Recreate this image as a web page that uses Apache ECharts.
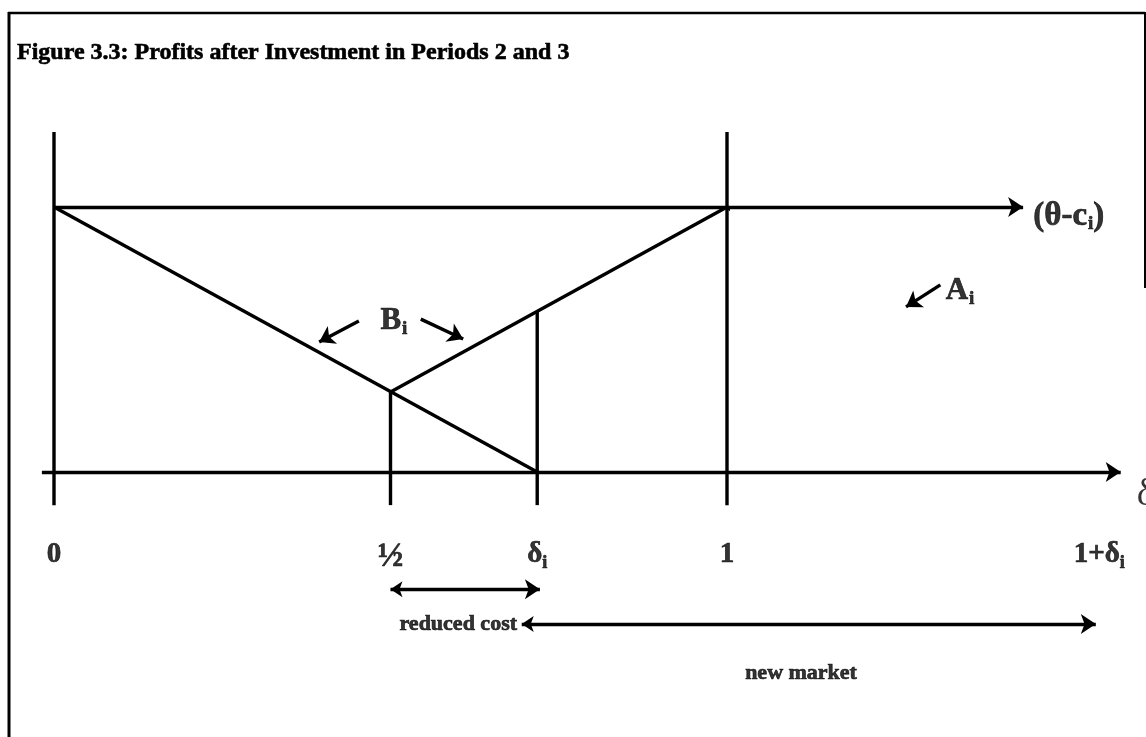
<!DOCTYPE html>
<html>
<head>
<meta charset="utf-8">
<script src="https://cdn.jsdelivr.net/npm/echarts@6/dist/echarts.min.js"></script>
<style>
html,body{margin:0;padding:0;background:#fff;}
#chart{width:1146px;height:737px;}
</style>
</head>
<body>
<div id="chart"></div>
<script>
// ---- data (schematic units: x in delta units, y in profit units, (theta-c) = 1) ----
const titleText = 'Figure 3.3: Profits after Investment in Periods 2 and 3';
const tickPositions = [0, 0.5, 0.718, 1, 1.553];
const tickLabels = ['{m|0}', '{h|½}', '{m|δ}{s|i}', '{m|1}', '{m|1+δ}{s|i}'];
const tickLabelY = -0.317;
const thetaLevel = 1;              // (θ - c_i)
const profitB1 = [[0, 1], [0.718, 0]];
const profitB2 = [[0.5, 0.302], [1, 1]];
const profitA = [[1, 1], [1.553, 0]];
const verticals = [            // [x, yFrom, yTo]
  [0, -0.125, 1.283],
  [0.5, -0.125, 0.302],
  [0.718, -0.125, 0.606],
  [1, -0.125, 1.283],
  [1.553, -0.125, 0]
];
const xAxisLine = [[-0.018, 0], [1.585, 0]];
const thetaLine = [[0, 1], [1.44, 1]];
const reducedCostArrow = [[0.5, -0.442], [0.722, -0.442]];
const newMarketArrow = [[0.695, -0.574], [1.548, -0.574]];
const pointerArrows = [
  [[0.453, 0.570], [0.394, 0.491]],
  [[0.545, 0.577], [0.608, 0.502]],
  [[1.317, 0.706], [1.266, 0.623]]
];
const annotations = [ // [x, y, text, align]
  [0.505, 0.566, '{b|B}{bs|i}', 'center'],
  [1.325, 0.679, '{b|A}{bs|i}', 'left'],
  [1.455, 0.962, '{c|(θ-c}{bs|i}{c|)}', 'left'],
  [0.688, -0.574, '{t|reduced cost}', 'right'],
  [1.11, -0.758, '{t|new market}', 'center'],
  [1.609, -0.087, '{d|δ}', 'left']
];

const FONT = '"Liberation Serif", "Times New Roman", serif';
const ink = {color: '#000', textBorderColor: '#000', textBorderWidth: 0.7};
const rich = {
  m: {fontFamily: FONT, fontWeight: 'bold', fontSize: 29, lineHeight: 32, verticalAlign: 'top', ...ink},
  h: {fontFamily: FONT, fontWeight: 'bold', fontSize: 34, lineHeight: 32, verticalAlign: 'top', ...ink},
  s: {fontFamily: FONT, fontWeight: 'bold', fontSize: 18, lineHeight: 18, padding: [14, 0, 0, 0], verticalAlign: 'top', ...ink},
  b: {fontFamily: FONT, fontWeight: 'bold', fontSize: 31, lineHeight: 34, verticalAlign: 'top', ...ink},
  c: {fontFamily: FONT, fontWeight: 'bold', fontSize: 33, lineHeight: 34, verticalAlign: 'top', ...ink},
  bs: {fontFamily: FONT, fontWeight: 'bold', fontSize: 19, lineHeight: 19, padding: [15, 0, 0, 1], verticalAlign: 'top', ...ink},
  t: {fontFamily: FONT, fontWeight: 'bold', fontSize: 22, ...ink},
  d: {fontFamily: FONT, fontSize: 38, color: '#000'}
};

const lineStyle = {color: '#000', width: 3.4};
function seg(data, name) {
  return {type: 'line', name, data, symbol: 'none', clip: false, silent: true,
    lineStyle: lineStyle, animation: false, z: 3};
}
function arrows(list, name, symbol) {
  return {type: 'lines', name, coordinateSystem: 'cartesian2d', clip: false, silent: true,
    symbol: symbol, symbolSize: [12, 15], animation: false,
    lineStyle: {color: '#000', width: 3.4, opacity: 1},
    data: list.map(c => ({coords: c}))};
}

const series = [
  seg(profitB1, 'B1'), seg(profitB2, 'B2'), seg(profitA, 'A'),
  ...verticals.map((v, i) => seg([[v[0], v[1]], [v[0], v[2]]], 'v' + i)),
  arrows([xAxisLine], 'xaxis', ['none', 'arrow']),
  arrows([thetaLine], 'theta', ['none', 'arrow']),
  arrows([reducedCostArrow, newMarketArrow], 'ranges', ['arrow', 'arrow']),
  arrows(pointerArrows, 'pointers', ['none', 'arrow']),
  {
    type: 'scatter', name: 'ticklabels', silent: true, clip: false, animation: false,
    symbolSize: 0,
    data: tickPositions.map((x, i) => ({value: [x, tickLabelY], label: {formatter: tickLabels[i]}})),
    label: {show: true, position: 'inside', rich: rich}
  },
  {
    type: 'scatter', name: 'annotations', silent: true, clip: false, animation: false,
    symbolSize: 0,
    data: annotations.map(a => ({
      value: [a[0], a[1]],
      label: {formatter: a[2], position: a[3] === 'center' ? 'inside' : (a[3] === 'left' ? 'right' : 'left'), distance: 0}
    })),
    label: {show: true, rich: rich}
  }
];

const chart = echarts.init(document.getElementById('chart'), null, {renderer: 'canvas'});
chart.setOption({
  backgroundColor: '#fff',
  animation: false,
  title: {
    text: titleText, left: 12, top: 36,
    textStyle: {fontFamily: FONT, fontWeight: 'bold', fontSize: 24, color: '#000', textBorderColor: '#000', textBorderWidth: 0.6}
  },
  grid: {left: 54, top: 207, width: 673, height: 265, containLabel: false},
  xAxis: {type: 'value', min: 0, max: 1, show: false},
  yAxis: {type: 'value', min: 0, max: thetaLevel, show: false},
  graphic: [
    {type: 'line', shape: {x1: 8, y1: 13, x2: 1145, y2: 13}, style: {stroke: '#000', lineWidth: 2.5}},
    {type: 'line', shape: {x1: 9, y1: 12, x2: 9, y2: 737}, style: {stroke: '#000', lineWidth: 3}},
    {type: 'line', shape: {x1: 1145, y1: 12, x2: 1145, y2: 288}, style: {stroke: '#000', lineWidth: 2}}
  ],
  series: series
});
</script>
</body>
</html>
